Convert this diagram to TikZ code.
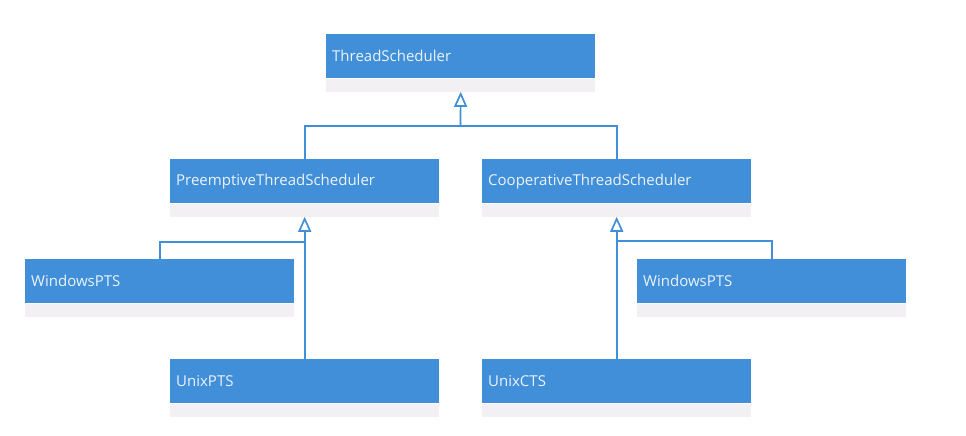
\documentclass[tikz,border=0pt]{standalone}
\usepackage{fontspec}
\setmainfont{Open Sans}
\usetikzlibrary{arrows.meta,positioning}
\definecolor{umlblue}{RGB}{65,143,216}
\definecolor{umlgrey}{RGB}{242,240,242}
\definecolor{umltext}{RGB}{236,243,251}

\begin{document}
\begin{tikzpicture}[x=1pt, y=-1pt,
	cls/.style={rectangle, fill=umlblue, text=umltext, minimum width=269pt, minimum height=44pt, text width=257pt, inner xsep=6pt, align=left, anchor=north west, font=\fontsize{15}{17}\selectfont},
	attr/.style={rectangle, fill=umlgrey, minimum width=269pt, minimum height=13pt, inner sep=0pt, below=0pt of #1},
	link/.style={draw=umlblue, line width=1.7pt},
	inherit/.style={link, -{Triangle[open, length=15pt, width=13pt, fill=white]}}]
	\useasboundingbox[fill=white] (0,0) rectangle (966,436);
	% classes
	\node[cls] (ts) at (326,34) {ThreadScheduler};
	\node[attr=ts] (ts-a) {};
	\node[cls] (pts) at (170,159) {PreemptiveThreadScheduler};
	\node[attr=pts] (pts-a) {};
	\node[cls] (cts) at (482,159) {CooperativeThreadScheduler};
	\node[attr=cts] (cts-a) {};
	\node[cls] (wpts) at (25,259) {WindowsPTS};
	\node[attr=wpts] (wpts-a) {};
	\node[cls] (upts) at (170,359) {UnixPTS};
	\node[attr=upts] (upts-a) {};
	\node[cls] (wcts) at (637,259) {WindowsPTS};
	\node[attr=wcts] (wcts-a) {};
	\node[cls] (ucts) at (482,359) {UnixCTS};
	\node[attr=ucts] (ucts-a) {};
	% generalisation
	\coordinate (tsj) at (460.5,126);
	\coordinate (pj) at (304.5,242);
	\coordinate (cj) at (616.5,241);
	\draw[link] (pts.north) |- (tsj) -| (cts.north);
	\draw[inherit] (tsj) -- (ts-a.south);
	\draw[link] (wpts.north) |- (pj);
	\draw[inherit] (upts.north) -- (pts-a.south);
	\draw[link] (wcts.north) |- (cj);
	\draw[inherit] (ucts.north) -- (cts-a.south);
\end{tikzpicture}
\end{document}
